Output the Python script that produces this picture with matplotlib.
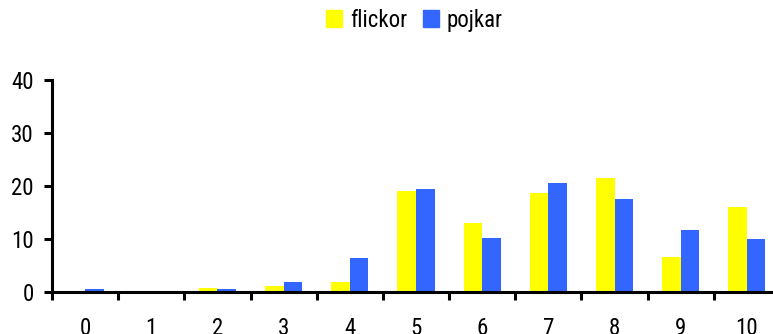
import numpy as np
import matplotlib.pyplot as plt
from matplotlib.patches import Patch

plt.rcParams['font.family'] = ['Roboto Condensed', 'DejaVu Sans']

categories = ['0', '1', '2', '3', '4', '5', '6', '7', '8', '9', '10']
flickor = [0.0, 0.0, 0.8, 1.1, 1.9, 19.1, 13.0, 18.7, 21.5, 6.6, 16.0]
pojkar = [0.5, 0.0, 0.6, 1.9, 6.4, 19.4, 10.2, 20.6, 17.5, 11.7, 10.0]

yellow = '#FFFF00'
blue = '#3366FF'

fig = plt.figure(figsize=(7.73, 3.34), dpi=100)
ax = fig.add_axes([52/773, 42/334, (780-52)/773, 212/334])

x = np.arange(len(categories))
w = 0.28
ax.bar(x - w/2, flickor, w, color=yellow)
ax.bar(x + w/2, pojkar, w, color=blue)

ax.set_xlim(-0.5, len(categories) - 0.5)
ax.set_ylim(0, 40)
ax.set_yticks([0, 10, 20, 30, 40])

for s in ['top', 'right']:
    ax.spines[s].set_visible(False)
for s in ['left', 'bottom']:
    ax.spines[s].set_linewidth(2.2)

ax.set_xticks(x)
ax.set_xticklabels(categories)
ax.set_xticks(np.arange(-0.5, len(categories)), minor=True)
ax.tick_params(axis='x', which='major', length=0, pad=18, labelsize=16.5)
ax.tick_params(axis='x', which='minor', length=6, width=2.2, direction='out')
ax.tick_params(axis='y', length=6, width=2.2, pad=7, labelsize=16.5)

handles = [Patch(color=yellow, label='flickor'), Patch(color=blue, label='pojkar')]
fig.legend(handles=handles, loc='center', bbox_to_anchor=(0.536, 0.94), ncol=2,
           frameon=False, fontsize=16.5, handlelength=0.7, handleheight=0.7,
           handletextpad=0.35, columnspacing=0.7)

fig.savefig('out.png', dpi=100)
